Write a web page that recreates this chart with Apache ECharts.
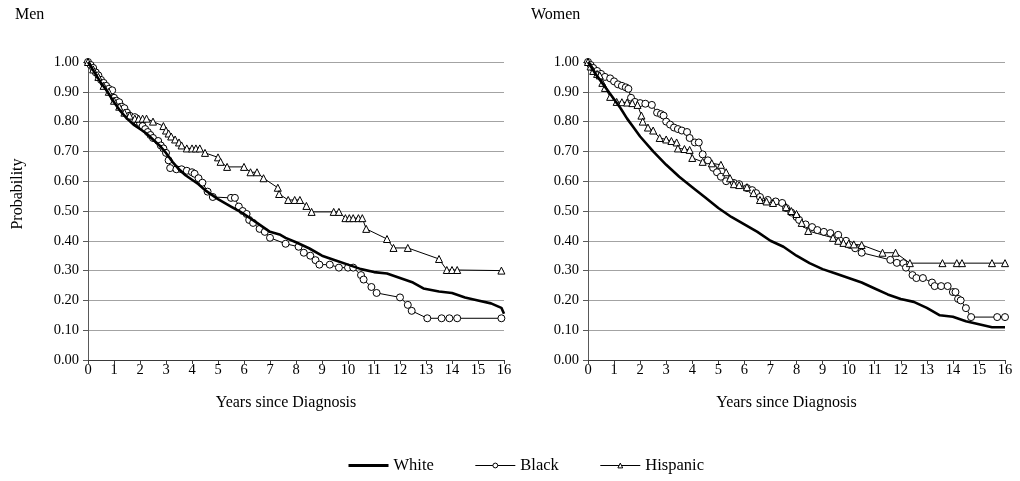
<!DOCTYPE html>
<html>
<head>
<meta charset="utf-8">
<script src="https://cdn.jsdelivr.net/npm/echarts@6/dist/echarts.min.js"></script>
<style>
html,body{margin:0;padding:0;background:#fff;}
#chart{width:1020px;height:481px;}
</style>
</head>
<body>
<div id="chart"></div>
<script>
// ---- Data (years since diagnosis, survival probability) ----
const panelTitles = ['Men', 'Women'];
const groupNames = ['White', 'Black', 'Hispanic'];
const yAxisTitle = 'Probability';
const xAxisTitle = 'Years since Diagnosis';
const xTicks = [0, 16, 1];
const yTicks = [0, 1, 0.1];

const menWhite = [[0,1.0],[0.25,0.965],[0.5,0.93],[0.75,0.9],[1,0.865],[1.25,0.835],[1.5,0.81],[1.75,0.79],[2,0.775],[2.25,0.76],[2.5,0.74],[2.75,0.72],[3,0.695],[3.25,0.665],[3.5,0.64],[3.75,0.62],[4,0.605],[4.25,0.59],[4.5,0.57],[4.75,0.555],[5,0.54],[5.5,0.515],[6,0.49],[6.5,0.46],[7,0.43],[7.4,0.42],[7.6,0.41],[8,0.395],[8.5,0.375],[9,0.35],[9.5,0.335],[10,0.32],[10.5,0.305],[11,0.295],[11.5,0.29],[12,0.275],[12.5,0.26],[12.9,0.24],[13.5,0.23],[14,0.225],[14.5,0.21],[15,0.2],[15.5,0.19],[15.9,0.175],[16,0.155]];

const menBlack = [[0,1.0],[0.1,0.99],[0.2,0.98],[0.3,0.965],[0.4,0.955],[0.5,0.94],[0.6,0.93],[0.7,0.92],[0.8,0.91],[0.93,0.905],[1.0,0.88],[1.1,0.87],[1.2,0.865],[1.3,0.85],[1.4,0.845],[1.5,0.83],[1.6,0.82],[1.8,0.815],[1.9,0.8],[2.0,0.795],[2.1,0.785],[2.2,0.775],[2.3,0.765],[2.4,0.755],[2.5,0.745],[2.7,0.735],[2.8,0.72],[2.9,0.71],[3.0,0.695],[3.1,0.67],[3.16,0.644],[3.4,0.64],[3.6,0.64],[3.8,0.635],[4.0,0.63],[4.1,0.625],[4.25,0.61],[4.4,0.595],[4.6,0.565],[4.8,0.547],[5.5,0.544],[5.65,0.544],[5.8,0.515],[5.95,0.5],[6.1,0.49],[6.2,0.47],[6.35,0.46],[6.6,0.44],[6.8,0.43],[7.0,0.41],[7.6,0.39],[8.1,0.38],[8.3,0.36],[8.55,0.35],[8.75,0.335],[8.9,0.32],[9.3,0.32],[9.65,0.31],[10.0,0.31],[10.2,0.31],[10.5,0.285],[10.6,0.27],[10.9,0.245],[11.1,0.225],[12.0,0.21],[12.3,0.185],[12.45,0.165],[13.05,0.14],[13.6,0.14],[13.9,0.14],[14.2,0.14],[15.9,0.14]];

const menHispanic = [[0,1.0],[0.2,0.975],[0.4,0.95],[0.6,0.92],[0.8,0.9],[1.0,0.87],[1.2,0.85],[1.4,0.83],[1.6,0.82],[1.8,0.81],[1.95,0.81],[2.1,0.81],[2.25,0.81],[2.5,0.8],[2.9,0.785],[3.0,0.77],[3.1,0.76],[3.2,0.75],[3.35,0.74],[3.5,0.73],[3.6,0.72],[3.8,0.71],[4.0,0.71],[4.15,0.71],[4.3,0.71],[4.5,0.695],[5.0,0.68],[5.1,0.665],[5.35,0.648],[6.0,0.648],[6.25,0.63],[6.5,0.63],[6.75,0.61],[7.3,0.578],[7.35,0.557],[7.7,0.537],[7.95,0.537],[8.15,0.537],[8.4,0.517],[8.6,0.497],[9.45,0.497],[9.65,0.497],[9.9,0.476],[10.05,0.476],[10.2,0.476],[10.4,0.476],[10.55,0.476],[10.7,0.44],[11.5,0.406],[11.75,0.376],[12.3,0.376],[13.5,0.339],[13.8,0.302],[14.0,0.302],[14.2,0.302],[15.9,0.3]];

const womenWhite = [[0,1.0],[0.25,0.965],[0.5,0.935],[0.75,0.905],[1,0.875],[1.25,0.845],[1.5,0.81],[1.75,0.78],[2,0.75],[2.5,0.7],[3,0.655],[3.5,0.615],[4,0.58],[4.5,0.545],[5,0.51],[5.5,0.48],[6,0.455],[6.5,0.43],[7,0.4],[7.5,0.38],[8,0.35],[8.5,0.325],[9,0.305],[9.5,0.29],[10,0.275],[10.5,0.26],[11,0.24],[11.5,0.22],[12,0.205],[12.5,0.195],[13,0.175],[13.5,0.15],[14,0.145],[14.5,0.13],[15,0.12],[15.5,0.11],[16,0.11]];

const womenBlack = [[0,1.0],[0.1,0.99],[0.2,0.98],[0.35,0.97],[0.5,0.96],[0.65,0.95],[0.85,0.945],[1.0,0.935],[1.15,0.925],[1.3,0.92],[1.45,0.915],[1.55,0.91],[1.65,0.88],[1.8,0.866],[2.0,0.862],[2.2,0.86],[2.45,0.856],[2.65,0.83],[2.8,0.825],[2.9,0.82],[3.0,0.8],[3.15,0.79],[3.3,0.78],[3.45,0.775],[3.6,0.77],[3.8,0.765],[3.9,0.745],[4.1,0.73],[4.25,0.73],[4.4,0.69],[4.6,0.67],[4.8,0.645],[4.95,0.63],[5.1,0.615],[5.3,0.6],[5.6,0.594],[5.8,0.59],[6.1,0.577],[6.3,0.57],[6.45,0.56],[6.6,0.547],[6.9,0.537],[7.2,0.532],[7.45,0.527],[7.6,0.51],[7.8,0.495],[8.0,0.48],[8.1,0.47],[8.35,0.455],[8.6,0.446],[8.8,0.436],[9.05,0.43],[9.3,0.426],[9.6,0.42],[9.9,0.4],[10.05,0.386],[10.25,0.375],[10.5,0.36],[11.6,0.336],[11.85,0.326],[12.1,0.325],[12.2,0.31],[12.45,0.285],[12.6,0.275],[12.85,0.275],[13.2,0.26],[13.3,0.248],[13.55,0.248],[13.8,0.248],[14.0,0.228],[14.1,0.228],[14.2,0.205],[14.3,0.2],[14.5,0.174],[14.7,0.144],[15.7,0.144],[16.0,0.144]];

const womenHispanic = [[0,1.0],[0.1,0.985],[0.2,0.97],[0.35,0.96],[0.45,0.955],[0.55,0.93],[0.65,0.913],[0.85,0.883],[1.1,0.866],[1.3,0.865],[1.5,0.864],[1.7,0.862],[1.9,0.856],[2.05,0.82],[2.1,0.8],[2.3,0.78],[2.5,0.77],[2.75,0.745],[3.0,0.74],[3.2,0.735],[3.4,0.73],[3.45,0.71],[3.7,0.708],[3.9,0.705],[4.0,0.678],[4.4,0.665],[4.75,0.66],[5.1,0.655],[5.3,0.63],[5.45,0.61],[5.6,0.59],[5.8,0.587],[6.1,0.58],[6.35,0.56],[6.6,0.537],[6.85,0.532],[7.1,0.527],[7.6,0.513],[7.8,0.5],[8.0,0.49],[8.2,0.46],[8.45,0.433],[9.4,0.41],[9.6,0.4],[9.8,0.393],[10.0,0.39],[10.2,0.388],[10.5,0.386],[11.3,0.36],[11.8,0.36],[12.35,0.325],[13.6,0.325],[14.15,0.325],[14.35,0.325],[15.5,0.325],[16.0,0.325]];

// ---- Chart ----
const FONT = 'Liberation Serif';
const TICK_FS = 14.5;
const TEXT_FS = 16;
const chart = echarts.init(document.getElementById('chart'), null, {renderer: 'canvas'});

function xAxisFor(i) {
  return {
    type: 'value', gridIndex: i, min: xTicks[0], max: xTicks[1], interval: xTicks[2],
    axisLine: {show: true, onZero: false, lineStyle: {color: '#3a3a3a', width: 1}},
    axisTick: {show: true, inside: false, length: 4, lineStyle: {color: '#3a3a3a'}},
    splitLine: {show: false},
    axisLabel: {color: '#000', fontFamily: FONT, fontSize: TICK_FS, margin: 3},
    name: xAxisTitle, nameLocation: 'middle', nameGap: 35,
    nameTextStyle: {color: '#000', fontFamily: FONT, fontSize: TEXT_FS, padding: [0, 20, 0, 0]}
  };
}
function yAxisFor(i) {
  return {
    type: 'value', gridIndex: i, min: yTicks[0], max: yTicks[1], interval: yTicks[2],
    axisLine: {show: true, onZero: false, lineStyle: {color: '#595959', width: 1}},
    axisTick: {show: true, inside: false, length: 5, lineStyle: {color: '#595959'}},
    splitLine: {show: true, lineStyle: {color: '#a3a3a3', width: 1}},
    axisLabel: {color: '#000', fontFamily: FONT, fontSize: TICK_FS, margin: 9,
      formatter: v => v.toFixed(2)}
  };
}

const panelData = [[menWhite, menBlack, menHispanic], [womenWhite, womenBlack, womenHispanic]];
const series = [];
panelData.forEach((sets, gi) => {
  sets.forEach((d, si) => {
    const base = {
      name: groupNames[si], type: 'line', xAxisIndex: gi, yAxisIndex: gi,
      data: d, animation: false, z: si === 0 ? 4 : 3
    };
    if (si === 0) {
      Object.assign(base, {
        symbol: 'none', showSymbol: false,
        lineStyle: {color: '#000', width: 2.6}, itemStyle: {color: '#000'}
      });
    } else {
      Object.assign(base, {
        symbol: si === 1 ? 'circle' : 'triangle', symbolSize: 7, showSymbol: true,
        lineStyle: {color: '#000', width: 1},
        itemStyle: {color: '#fff', borderColor: '#000', borderWidth: 1}
      });
    }
    series.push(base);
  });
});

const markerLegendStyle = {color: '#fff', borderColor: '#000', borderWidth: 1};
chart.setOption({
  backgroundColor: '#fff',
  animation: false,
  title: [
    {text: panelTitles[0], left: 15, top: 7, padding: 0, textStyle: {fontFamily: FONT, fontSize: TEXT_FS, fontWeight: 'normal', color: '#000'}},
    {text: panelTitles[1], left: 531, top: 7, padding: 0, textStyle: {fontFamily: FONT, fontSize: TEXT_FS, fontWeight: 'normal', color: '#000'}}
  ],
  graphic: [{
    type: 'text', x: 18, y: 194, rotation: Math.PI / 2,
    style: {text: yAxisTitle, fontFamily: FONT, fontSize: TEXT_FS, fill: '#000',
      align: 'center', verticalAlign: 'middle'}
  }],
  grid: [
    {left: 88, right: 516, top: 62, bottom: 121},
    {left: 588, right: 15, top: 62, bottom: 121}
  ],
  xAxis: [xAxisFor(0), xAxisFor(1)],
  yAxis: [yAxisFor(0), yAxisFor(1)],
  legend: {
    data: [
      {name: groupNames[0], itemStyle: {opacity: 0, borderWidth: 0}, lineStyle: {color: '#000', width: 3}},
      {name: groupNames[1], itemStyle: markerLegendStyle, lineStyle: {color: '#000', width: 1}},
      {name: groupNames[2], itemStyle: markerLegendStyle, lineStyle: {color: '#000', width: 1}}
    ],
    left: 347, top: 457, padding: 0, itemWidth: 40, itemHeight: 6, itemGap: 41,
    textStyle: {fontFamily: FONT, fontSize: 16.5, color: '#000'}
  },
  series: series
});
</script>
</body>
</html>
